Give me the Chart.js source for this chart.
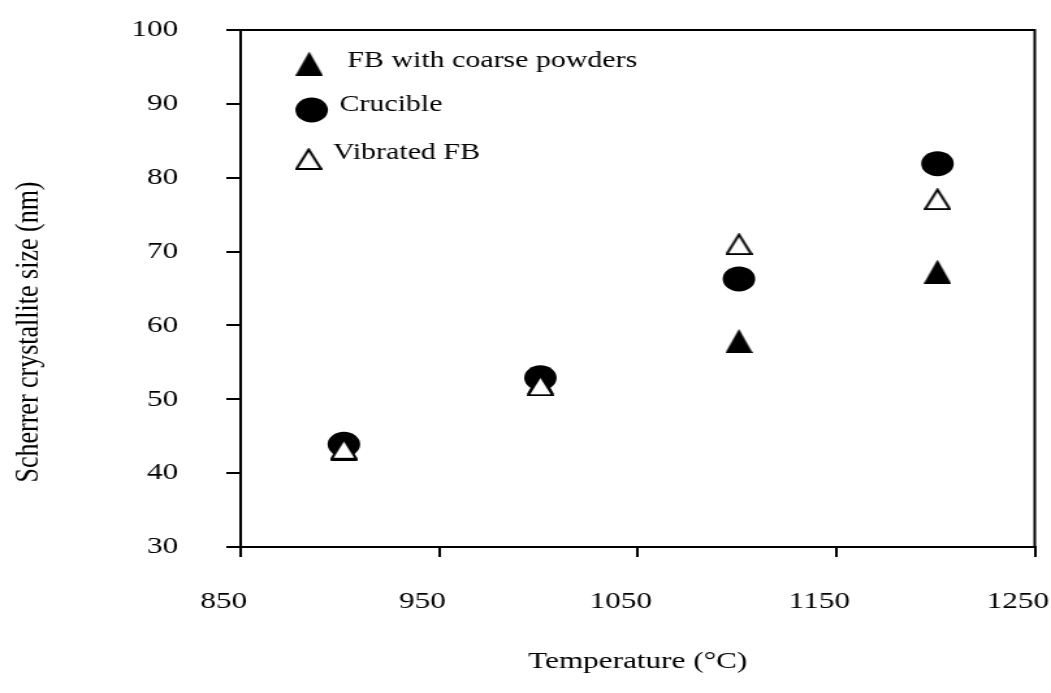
<!DOCTYPE html>
<html>
<head>
<meta charset="utf-8">
<script src="https://cdn.jsdelivr.net/npm/chart.js@4/dist/chart.umd.min.js"></script>
<style>
  html, body { margin: 0; padding: 0; background: #fff; }
</style>
</head>
<body>
<!-- the original figure is stretched sideways, so the canvas is drawn narrow and widened by CSS -->
<canvas id="ScatterChart" width="808" height="693" style="width:1051px;height:693px;display:block"></canvas>
<script>
// temperatures (°C) of each run
var temps = [902, 1001, 1101, 1201];
// Scherrer crystallite size (nm)
var fbCoarse = [43.3, 52.3, 57.9, 67.3];
var crucible = [43.9, 52.9, 66.3, 81.9];
var vibratedFb = [43.3, 51.9, 71.0, 77.1];

var xTicks = [850, 950, 1050, 1150, 1250];
var yTicks = [30, 40, 50, 60, 70, 80, 90, 100];

var seriesNames = ['FB with coarse powders', 'Crucible', 'Vibrated FB'];
var yTitle = 'Scherrer crystallite size (nm)';

function toPoints(xs, ys) {
    var pts = [];
    for (var i = 0; i < xs.length; i++) {
        pts.push({ x: xs[i], y: ys[i] });
    }
    return pts;
}

// marker images (narrow here, widened with the canvas)
function makeTriangle(w, h, filled) {
    var c = document.createElement('canvas');
    c.width = w;
    c.height = h;
    var g = c.getContext('2d');
    g.beginPath();
    if (filled) {
        g.moveTo(w / 2, 0);
        g.lineTo(w, h);
        g.lineTo(0, h);
        g.closePath();
        g.fillStyle = '#000';
        g.fill();
    } else {
        g.moveTo(w / 2, 1.5);
        g.lineTo(w - 1, h - 1);
        g.lineTo(1, h - 1);
        g.closePath();
        g.fillStyle = '#fff';
        g.fill();
        g.lineWidth = 2;
        g.lineJoin = 'miter';
        g.strokeStyle = '#000';
        g.stroke();
    }
    return c;
}
var triFilled = makeTriangle(21, 24, true);
var triOpen = makeTriangle(21, 22, false);

var serif = "'Liberation Serif', 'Times New Roman', serif";

// box around the plot area, legend inside it, y title
var framePlugin = {
    id: 'frame',
    afterDraw: function (chart) {
        var ctx = chart.ctx;
        var a = chart.chartArea;
        ctx.save();
        ctx.strokeStyle = '#000';
        ctx.lineWidth = 2;
        ctx.strokeRect(a.left, a.top, a.right - a.left, a.bottom - a.top);

        var rows = [
            { ds: 0, mx: 237.7, my: 63.5, tx: 267, ty: 60.5 },
            { ds: 1, mx: 239.6, my: 110, tx: 261, ty: 105 },
            { ds: 2, mx: 237.3, my: 159, tx: 256, ty: 153 }
        ];
        ctx.font = '23px ' + serif;
        ctx.textBaseline = 'middle';
        ctx.textAlign = 'left';
        rows.forEach(function (r) {
            var d = chart.data.datasets[r.ds];
            ctx.fillStyle = d.backgroundColor;
            ctx.strokeStyle = d.borderColor;
            ctx.lineWidth = d.borderWidth;
            Chart.helpers.drawPoint(ctx, {
                pointStyle: d.pointStyle,
                radius: d.pointRadius,
                rotation: 0,
                borderWidth: d.borderWidth
            }, r.mx, r.my);
            ctx.fillStyle = '#000';
            ctx.fillText(seriesNames[r.ds], r.tx, r.ty);
        });

        ctx.translate(22, 332);
        ctx.rotate(-Math.PI / 2);
        ctx.font = '26px ' + serif;
        ctx.textAlign = 'center';
        ctx.fillText(yTitle, 0, 0);
        ctx.restore();
    }
};

function noPad(axis) {
    axis.paddingTop = 0;
    axis.paddingBottom = 0;
    axis.paddingLeft = 0;
    axis.paddingRight = 0;
}

var ctx = document.getElementById('ScatterChart').getContext('2d');

var scatterChart = new Chart(ctx, {
    type: 'scatter',
    data: {
        datasets: [
            {
                label: seriesNames[0],
                data: toPoints(temps, fbCoarse),
                pointStyle: triFilled,
                pointRadius: 12,
                backgroundColor: '#000',
                borderColor: '#000',
                borderWidth: 0,
                order: 3
            },
            {
                label: seriesNames[1],
                data: toPoints(temps, crucible),
                pointStyle: 'circle',
                pointRadius: 12.5,
                backgroundColor: '#000',
                borderColor: '#000',
                borderWidth: 0,
                order: 2
            },
            {
                label: seriesNames[2],
                data: toPoints(temps, vibratedFb),
                pointStyle: triOpen,
                pointRadius: 11,
                backgroundColor: '#fff',
                borderColor: '#000',
                borderWidth: 0,
                order: 1
            }
        ]
    },
    options: {
        responsive: false,
        animation: false,
        devicePixelRatio: 1,
        layout: { padding: { top: 30, right: 12, left: 0, bottom: 0 } },
        plugins: {
            legend: { display: false },
            tooltip: { enabled: false }
        },
        scales: {
            x: {
                type: 'linear',
                min: xTicks[0],
                max: xTicks[xTicks.length - 1],
                afterBuildTicks: function (axis) {
                    axis.ticks = xTicks.map(function (v) { return { value: v }; });
                },
                afterFit: function (axis) { axis.height = 146; noPad(axis); },
                border: { color: '#000', width: 2 },
                grid: { drawOnChartArea: false, color: '#000', lineWidth: 2, tickLength: 10 },
                ticks: {
                    color: '#000', padding: 30, labelOffset: -13,
                    font: { family: serif, size: 24 },
                    callback: function (v) { return String(v); }
                },
                title: {
                    display: true,
                    text: 'Temperature (°C)',
                    color: '#000',
                    font: { family: serif, size: 24 },
                    padding: { top: 0, bottom: 17 }
                }
            },
            y: {
                type: 'linear',
                min: yTicks[0],
                max: yTicks[yTicks.length - 1],
                afterBuildTicks: function (axis) {
                    axis.ticks = yTicks.map(function (v) { return { value: v }; });
                },
                afterFit: function (axis) { axis.width = 185; noPad(axis); },
                border: { color: '#000', width: 2 },
                grid: { drawOnChartArea: false, color: '#000', lineWidth: 2, tickLength: 11 },
                ticks: {
                    color: '#000', padding: 37, font: { family: serif, size: 24 },
                    callback: function (v) { return String(v); }
                },
                title: { display: false }
            }
        }
    },
    plugins: [framePlugin]
});
</script>
</body>
</html>
